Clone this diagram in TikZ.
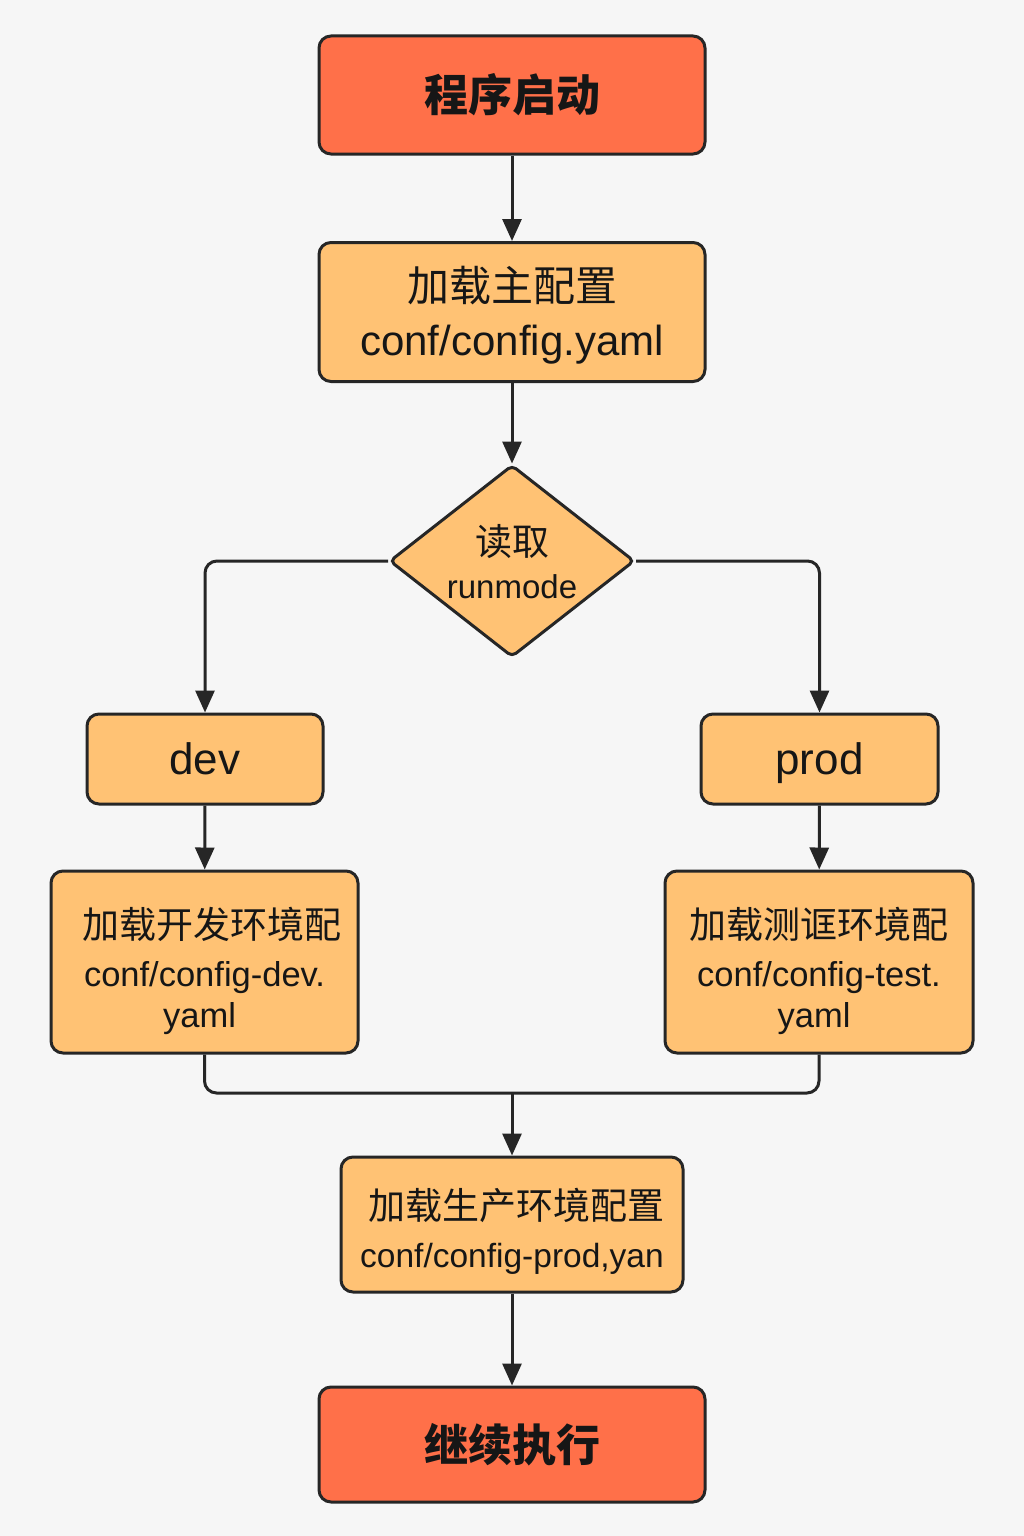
\documentclass[tikz,border=0pt]{standalone}
\usepackage{fontspec}
\setmainfont{Liberation Sans}
\newfontfamily\cjk{Noto Sans CJK SC}
\usetikzlibrary{arrows.meta,shapes.geometric}
\definecolor{bg}{HTML}{F6F6F6}
\definecolor{hot}{HTML}{FF7049}
\definecolor{warm}{HTML}{FFC274}
\definecolor{ink}{HTML}{262626}
\definecolor{txt}{HTML}{161616}
\begin{document}
\begin{tikzpicture}[x=1pt,y=-1pt,
  box/.style={draw=ink, line width=3pt, rounded corners=12pt, rectangle, inner sep=0pt, text=txt, align=center},
  hotbox/.style={box, fill=hot},
  warmbox/.style={box, fill=warm},
  conn/.style={draw=ink, line width=3pt},
  arr/.style={conn, -{Triangle[length=22pt,width=19pt]}},
]
\useasboundingbox[fill=bg] (0,0) rectangle (1024,1536);

\node[hotbox, minimum width=386pt, minimum height=118pt, font=\fontsize{44pt}{50pt}\selectfont\cjk\bfseries] (start) at (512,95)
  {程序启动};
\node[warmbox, minimum width=386pt, minimum height=139pt, font=\fontsize{42pt}{54pt}\selectfont] (main) at (512,312)
  {\rule{0pt}{42pt}{\cjk 加载主配置}\\ conf/config.yaml};
\node[diamond, draw=ink, line width=3pt, fill=warm, rounded corners=5pt, inner sep=0pt,
  minimum width=245pt, minimum height=192pt] (dia) at (512,561) {};
\node[text=txt, align=center, font=\fontsize{33pt}{43pt}\selectfont] (dialabel) at (512,562)
  {{\cjk\fontsize{37pt}{43pt}\selectfont 读取}\\ runmode};
\node[warmbox, minimum width=236pt, minimum height=90pt, text depth=0pt, font=\fontsize{44pt}{50pt}\selectfont] (dev) at (205,759)
  {dev};
\node[warmbox, minimum width=237pt, minimum height=90pt, text depth=0pt, font=\fontsize{44pt}{50pt}\selectfont] (prod) at (819.5,759)
  {prod};
\node[warmbox, minimum width=307pt, minimum height=182pt, font=\fontsize{34.5pt}{41pt}\selectfont] (devc) at (204.5,962)
  {\hspace*{14pt}\rule{0pt}{50pt}{\cjk\fontsize{37pt}{41pt}\selectfont 加载开发环境配}\\[7pt] conf/config-dev.\\ \hspace*{-10pt}yaml};
\node[warmbox, minimum width=308pt, minimum height=182pt, font=\fontsize{34.5pt}{41pt}\selectfont] (testc) at (819,962)
  {\rule{0pt}{50pt}{\cjk\fontsize{37pt}{41pt}\selectfont 加载测诓环境配}\\[7pt] conf/config-test.\\ \hspace*{-10pt}yaml};
\node[warmbox, minimum width=342pt, minimum height=135pt, font=\fontsize{33.5pt}{48pt}\selectfont] (prodc) at (512,1224.5)
  {\hspace*{8pt}\rule{0pt}{44pt}{\cjk\fontsize{37pt}{48pt}\selectfont 加载生产环境配置}\\ conf/config-prod,yan};
\node[hotbox, minimum width=386pt, minimum height=115pt, font=\fontsize{44pt}{50pt}\selectfont\cjk\bfseries] (end) at (512,1444.5)
  {继续执行};

\coordinate (join) at (512,1093);

\draw[arr] (start) -- (main);
\draw[arr] (main) -- (dia);
\draw[arr, rounded corners=12pt] (dia.west) -| (dev);
\draw[arr, rounded corners=12pt] (dia.east) -| (prod);
\draw[arr] (dev) -- (devc);
\draw[arr] (prod) -- (testc);
\draw[conn, rounded corners=12pt] (devc.south) |- (join) -| (testc.south);
\draw[arr] (join) -- (prodc);
\draw[arr] (prodc) -- (end);
\end{tikzpicture}
\end{document}
